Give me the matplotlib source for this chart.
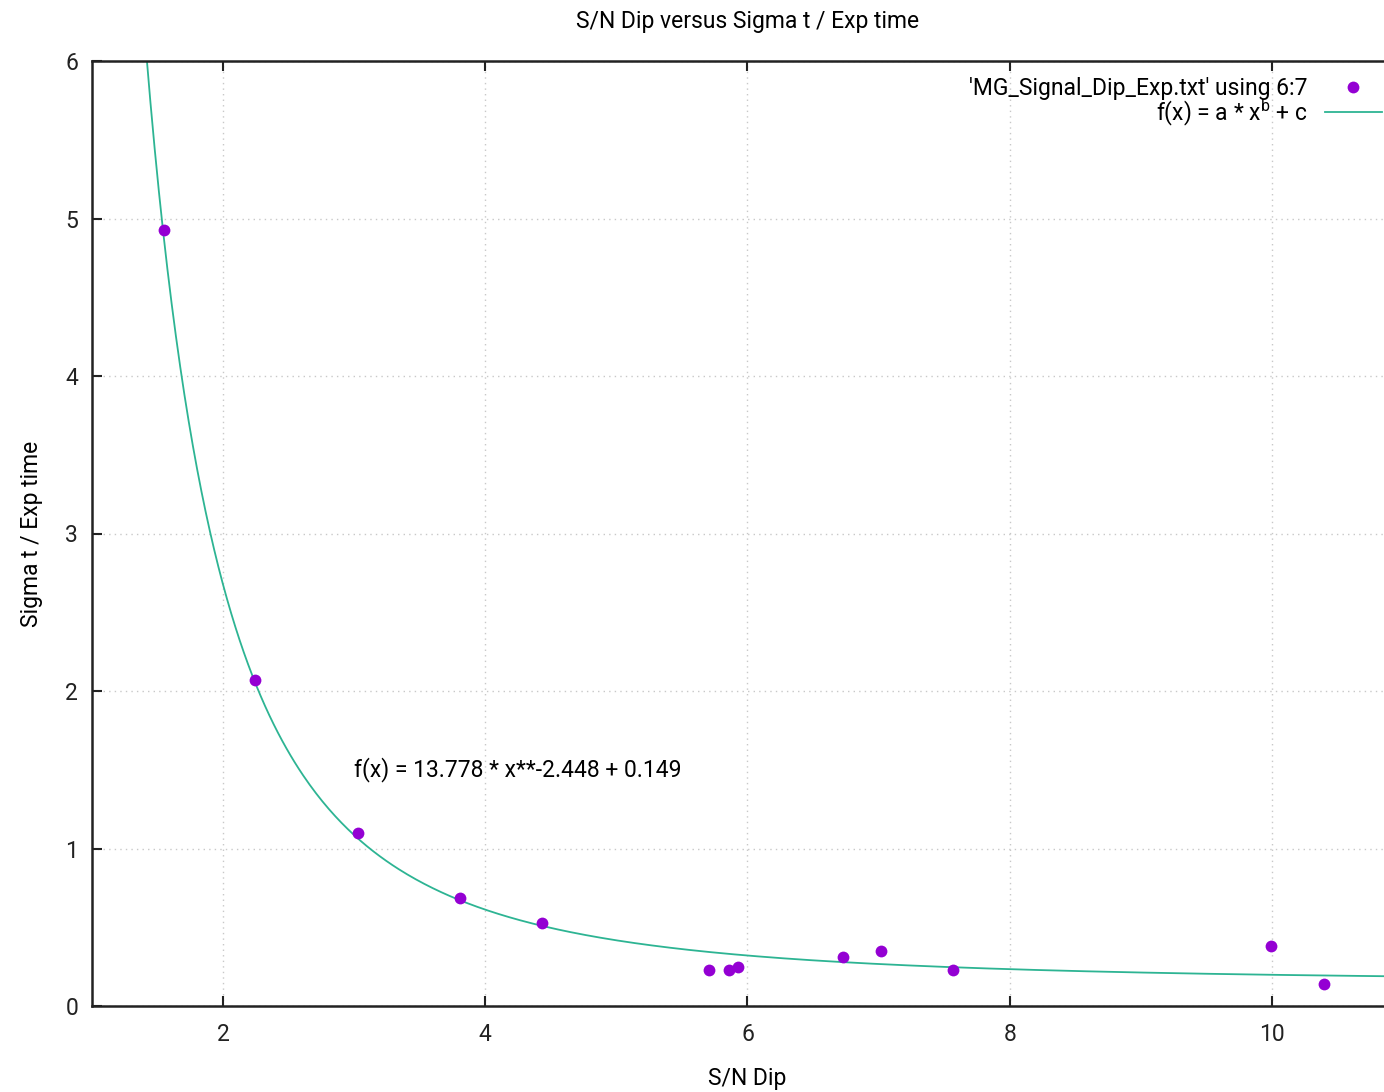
import numpy as np
from matplotlib import pyplot as plt

plt.rcParams["font.family"] = ["Roboto", "DejaVu Sans"]

# data (columns 6:7 of MG_Signal_Dip_Exp.txt)
sn_dip = [1.55, 2.24, 3.03, 3.81, 4.43, 5.71, 5.86, 5.93, 6.73, 7.02, 7.57, 9.99, 10.40]
sigma_t = [4.93, 2.07, 1.10, 0.686, 0.527, 0.229, 0.229, 0.248, 0.311, 0.349, 0.229, 0.381, 0.140]

# fit parameters printed on the chart
fit_a = 13.778
fit_b = -2.448
fit_c = 0.149

x_ticks = [2, 4, 6, 8, 10]
y_ticks = [0, 1, 2, 3, 4, 5, 6]

POINT_COLOR = "#9400d3"
LINE_COLOR = "#2db493"
FS = 16.5

fig = plt.figure(figsize=(13.84, 10.92), dpi=100)
# right border of the gnuplot frame falls just outside the image
ax = fig.add_axes([92 / 1384, 1 - 1006 / 1092, (1403 - 92) / 1384, (1006 - 61) / 1092])

x_min, x_max = 1.0, 11.0
xs = np.linspace(1.3, x_max, 600)
ax.plot(xs, fit_a * xs ** fit_b + fit_c, color=LINE_COLOR, lw=1.3,
        label=r"f(x) = a * x$^{\mathregular{b}}$ + c", zorder=2)
ax.plot(sn_dip, sigma_t, "o", color=POINT_COLOR, ms=8.5, mec="none",
        label="'MG_Signal_Dip_Exp.txt' using 6:7", zorder=3)

ax.set_xlim(x_min, x_max)
ax.set_ylim(0, 6)
ax.set_xticks(x_ticks)
ax.set_yticks(y_ticks)
ax.tick_params(direction="in", length=7, width=1.5, labelsize=FS,
               top=True, right=False, colors="#222222")
ax.tick_params(axis="x", pad=12)
ax.tick_params(axis="y", pad=10)
for side in ("left", "bottom", "top"):
    ax.spines[side].set_linewidth(1.8)
    ax.spines[side].set_color("#222222")
ax.spines["right"].set_visible(False)
ax.grid(True, color="#c8c8c8", linestyle=(0, (1, 3)), linewidth=1.0)

ax.set_title("S/N Dip versus Sigma t / Exp time", fontsize=FS, pad=24)
ax.set_xlabel("S/N Dip", fontsize=FS, labelpad=15)
ax.set_ylabel("Sigma t / Exp time", fontsize=FS, labelpad=16)

ax.text(3.0, 1.5, f"f(x) = {fit_a:.3f} * x**{fit_b:.3f} + {fit_c:.3f}",
        fontsize=FS, va="center", ha="left")

handles, labels = ax.get_legend_handles_labels()
leg = ax.legend(handles[::-1], labels[::-1], loc="upper right",
                bbox_to_anchor=(1382 / 1384, 1 - 77 / 1092),
                bbox_transform=fig.transFigure, frameon=False,
                fontsize=FS, markerfirst=False, handlelength=2.5,
                labelspacing=-0.12, borderaxespad=0.0, borderpad=0.0,
                handletextpad=0.75)
for t in leg.get_texts():
    t.set_ha("right")

fig.savefig("out.png", dpi=100)
